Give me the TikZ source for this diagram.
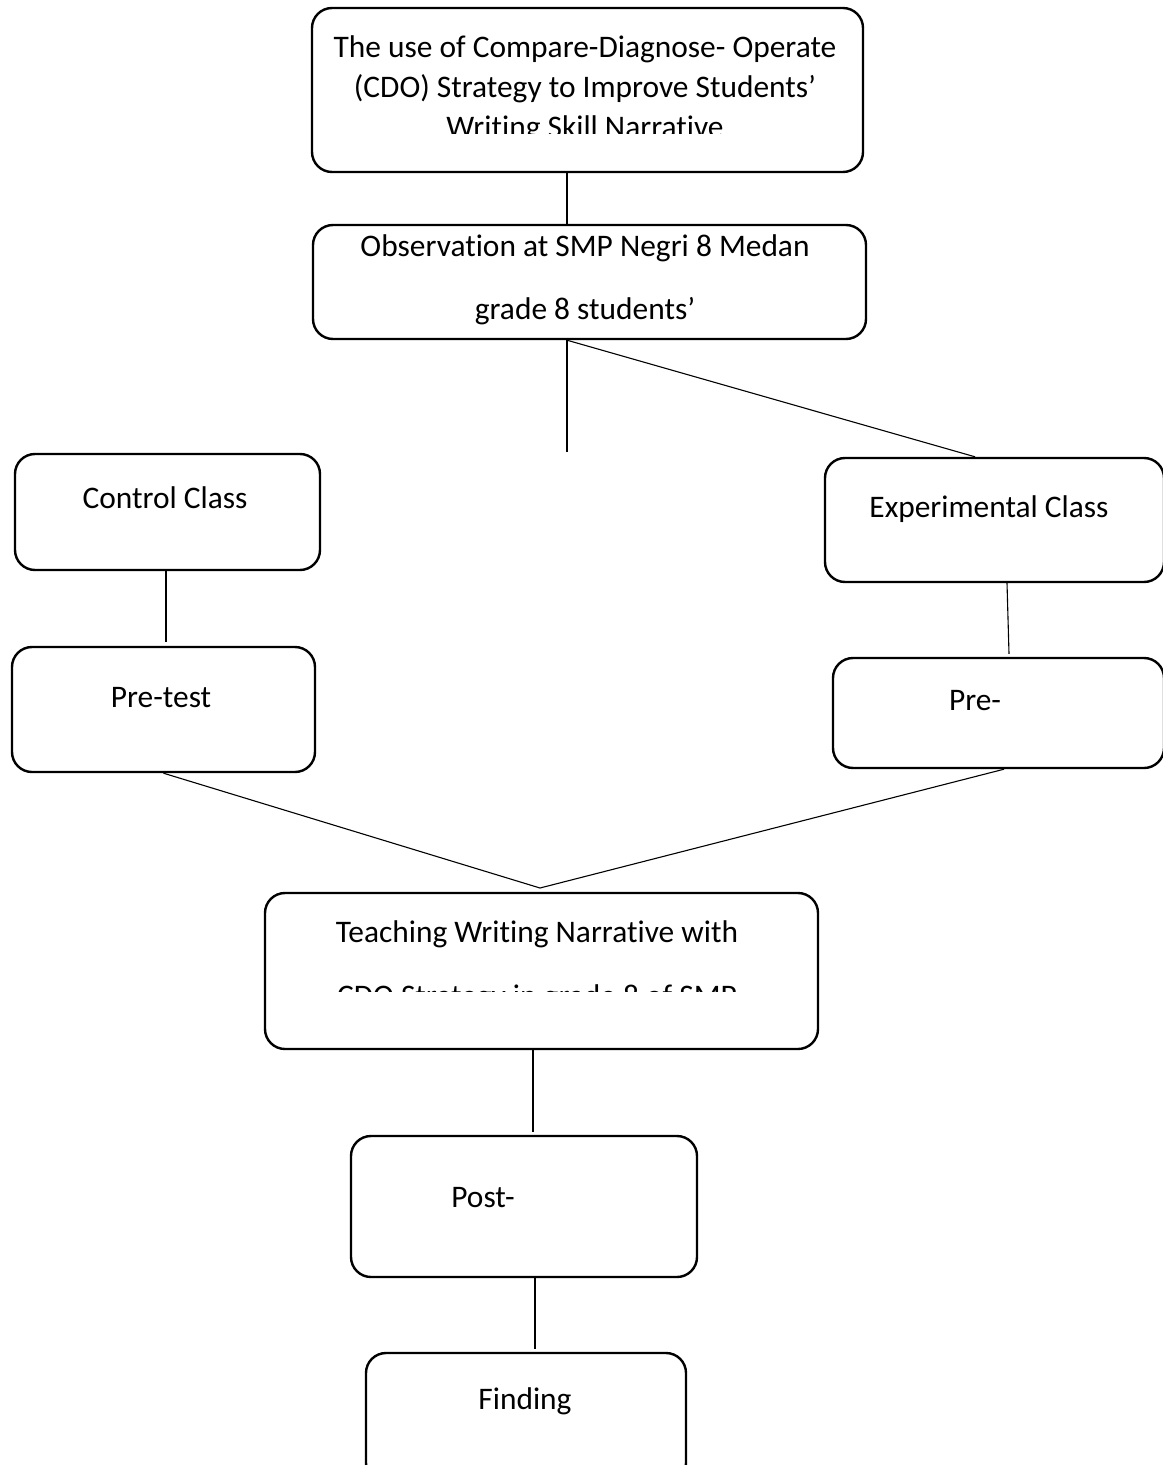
\documentclass[tikz,border=0pt]{standalone}
\usepackage{fontspec}
\setmainfont{Carlito}[Ligatures=NoCommon]
\begin{document}
\begin{tikzpicture}[x=0.5pt,y=-0.5pt,
        box/.style={draw,line width=1.2pt,rounded corners=10pt,inner sep=0pt},
        txt/.style={anchor=base,inner sep=0pt,align=center,font=\fontsize{15.7}{20}\selectfont},
        link/.style={line width=0.9pt},
        thin link/.style={line width=0.55pt}]
        \useasboundingbox (0,0) rectangle (1162,1465);
        %% Boxes
        \node[box,minimum width=275.5pt,minimum height=82pt] (topic) at (587.5,90) {};
        \node[box,minimum width=276.5pt,minimum height=57pt] (obs) at (589.5,282) {};
        \node[box,minimum width=152.5pt,minimum height=58pt] (ctrl) at (167.5,512) {};
        \node[box,minimum width=169.5pt,minimum height=62pt] (exp) at (994.5,520) {};
        \node[box,minimum width=151.5pt,minimum height=62.5pt] (pretest) at (163.5,709.5) {};
        \node[box,minimum width=165.5pt,minimum height=55pt] (pre) at (998.5,713) {};
        \node[box,minimum width=276.5pt,minimum height=78pt] (teach) at (541.5,971) {};
        \node[box,minimum width=173pt,minimum height=70.5pt] (post) at (524,1206.5) {};
        \node[box,minimum width=160pt,minimum height=65pt] (finding) at (526,1418) {};
        %% Texts (base = last line)
        \begin{scope}
            \clip (300,0) rectangle (880,134);
            \node[txt] (topictext) at (585,138) {The use of Compare-Diagnose- Operate\\(CDO) Strategy to Improve Students’\\Writing Skill Narrative};
        \end{scope}
        \node[txt] (obstext) at (585,320) {Observation at SMP Negri 8 Medan\\[11.5pt]grade 8 students’};
        \node[txt] (ctrltext) at (165,508) {Control Class};
        \node[txt] (exptext) at (989,517) {Experimental Class};
        \node[txt] (pretesttext) at (161,707) {Pre-test};
        \node[txt] (pretext) at (975,710) {Pre-};
        \begin{scope}
            \clip (250,880) rectangle (830,991);
            \node[txt] (teachtext) at (537,1006) {Teaching Writing Narrative with\\[12pt]CDO Strategy in grade 8 of SMP};
        \end{scope}
        \node[txt] (posttext) at (483,1207) {Post-};
        \node[txt] (findingtext) at (525,1409) {Finding};
        %% Lines
        \coordinate (split) at (567,452);
        \coordinate (merge) at (540,888);
        \draw[link] ([xshift=-10.25pt]topic.south) -- ([xshift=-11.25pt]obs.north);
        \draw[link] (obs.south -| split) -- (split);
        \draw[thin link] (obs.south -| split) -- ([xshift=-9.75pt]exp.north);
        \draw[link] ([xshift=-0.75pt]ctrl.south) -- ([xshift=1.25pt,yshift=2pt]pretest.north);
        \draw[thin link] ([xshift=6.25pt]exp.south) -- ([xshift=5.25pt,yshift=1.5pt]pre.north);
        \draw[thin link] (pretest.south) -- (merge) -- ([xshift=2.75pt]pre.south);
        \draw[thin link] ([xshift=-4.25pt]teach.south) -- ([xshift=4.5pt,yshift=1.5pt]post.north);
        \draw[link] ([xshift=5.5pt]post.south) -- ([xshift=4.5pt,yshift=1.5pt]finding.north);
    \end{tikzpicture}
\end{document}
